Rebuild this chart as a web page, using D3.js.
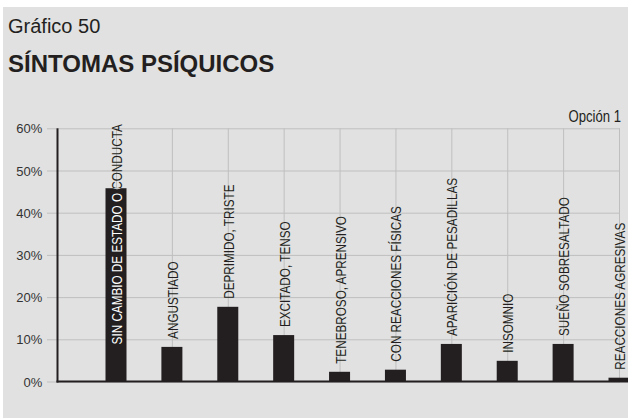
<!DOCTYPE html>
<html>
<head>
<meta charset="utf-8">
<script src="https://cdn.jsdelivr.net/npm/d3@7"></script>
<style>
  html, body { margin: 0; padding: 0; background: #ffffff; }
  svg { display: block; }
</style>
</head>
<body>
<svg id="chart" width="628" height="418"></svg>
<script>
const categories = [
  "SIN CAMBIO DE ESTADO O CONDUCTA",
  "ANGUSTIADO",
  "DEPRIMIDO, TRISTE",
  "EXCITADO, TENSO",
  "TENEBROSO, APRENSIVO",
  "CON REACCIONES FÍSICAS",
  "APARICIÓN DE PESADILLAS",
  "INSOMNIO",
  "SUEÑO SOBRESALTADO",
  "REACCIONES AGRESIVAS"
];
const values = [45.8, 8.2, 17.7, 11.0, 2.3, 2.8, 8.9, 4.9, 8.9, 0.9];
const yTicks = [0, 10, 20, 30, 40, 50, 60];
const seriesName = "Opción 1";
const chartNumber = "Gráfico 50";
const chartTitle = "SÍNTOMAS PSÍQUICOS";

const W = 628, H = 418;
const svg = d3.select("#chart");
const ink = "#231f20";
const gridColor = "#bfbfbf";
const FONT = "Liberation Sans, Arial, sans-serif";
const NARROW = 0.82;

svg.append("rect").attr("x", 3).attr("y", 7).attr("width", W - 3).attr("height", H - 7).attr("fill", "#e1e1e1");

svg.append("text").attr("x", 8).attr("y", 33)
  .attr("font-family", FONT).attr("font-size", 20)
  .attr("fill", ink).text(chartNumber);
svg.append("text").attr("x", 8).attr("y", 72)
  .attr("font-family", FONT).attr("font-size", 24).attr("font-weight", "bold")
  .attr("fill", ink).text(chartTitle);

const plot = { left: 57.5, right: 620, top: 128.3, bottom: 381.5 };
const y = d3.scaleLinear().domain([0, 60]).range([plot.bottom, plot.top]);
const x = d3.scalePoint().domain(categories).range([116, 619]);
const barW = 21;

// horizontal grid + tick labels
const yAxis = d3.axisLeft(y).tickValues(yTicks).tickFormat(d => d + "%")
  .tickSize(-(plot.right - 47)).tickPadding(5);
const gy = svg.append("g").attr("transform", `translate(47,0)`).call(yAxis);
gy.select(".domain").remove();
gy.selectAll(".tick line").attr("stroke", gridColor).attr("stroke-width", 1).attr("x1", 0).attr("x2", plot.right - 47);
gy.selectAll(".tick text").attr("font-family", FONT)
  .attr("font-size", 13).attr("fill", "#333").attr("x", -4.7).attr("dy", "0.35em");

// vertical grid at category centers
const xAxis = d3.axisBottom(x).tickSize(-(plot.bottom - plot.top)).tickFormat("");
const gx = svg.append("g").attr("transform", `translate(0,${plot.bottom})`).call(xAxis);
gx.select(".domain").remove();
gx.selectAll(".tick line").attr("stroke", gridColor).attr("stroke-width", 1);

// bars
const defs = svg.append("defs");
svg.append("g").selectAll("rect").data(categories).join("rect")
  .attr("x", d => x(d) - barW / 2)
  .attr("y", (d, i) => y(values[i]))
  .attr("width", barW)
  .attr("height", (d, i) => y(0) - y(values[i]))
  .attr("fill", ink);

categories.forEach((c, i) => {
  defs.append("clipPath").attr("id", "clipbar" + i).append("rect")
    .attr("x", x(c) - barW / 2).attr("y", y(values[i]))
    .attr("width", barW).attr("height", y(0) - y(values[i]));
});

// labels (rotated, condensed)
const labels = svg.append("g");
categories.forEach((c, i) => {
  const t = labels.append("text")
    .attr("font-family", FONT).attr("font-size", 14.3).attr("fill", ink)
    .text(c);
  const len = t.node().getComputedTextLength() * NARROW;
  const start = Math.max(y(values[i]) - 8, 124 + len);
  const tr = `translate(${x(c) + 6},${start}) rotate(-90) scale(${NARROW},1)`;
  t.attr("transform", tr);
  labels.append("g").attr("clip-path", `url(#clipbar${i})`)
    .append("text")
    .attr("font-family", FONT).attr("font-size", 14.3).attr("fill", "#ffffff")
    .attr("transform", tr)
    .text(c);
});

// axes lines
svg.append("line").attr("x1", plot.left).attr("x2", plot.left)
  .attr("y1", plot.top).attr("y2", plot.bottom + 1)
  .attr("stroke", ink).attr("stroke-width", 2);
svg.append("line").attr("x1", plot.left - 1).attr("x2", W)
  .attr("y1", plot.bottom).attr("y2", plot.bottom)
  .attr("stroke", ink).attr("stroke-width", 2);

// legend
svg.append("text")
  .attr("transform", `translate(621,122) scale(${NARROW},1)`)
  .attr("text-anchor", "end")
  .attr("font-family", FONT).attr("font-size", 16)
  .attr("fill", ink).text(seriesName);
</script>
</body>
</html>
